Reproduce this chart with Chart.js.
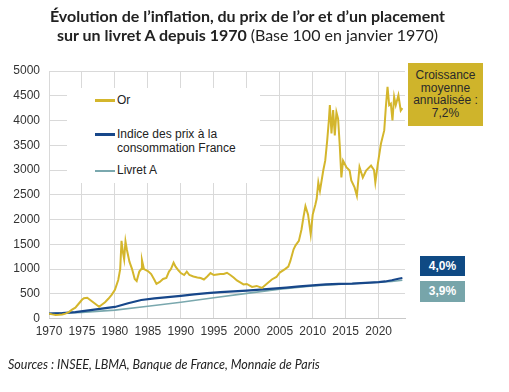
<!DOCTYPE html>
<html>
<head>
<meta charset="utf-8">
<script src="https://cdn.jsdelivr.net/npm/chart.js@4/dist/chart.umd.min.js"></script>
<style>
  body { margin: 0; width: 509px; height: 392px; background: #fff; position: relative; overflow: hidden;
         font-family: "Liberation Sans", Arial, sans-serif; color: #222; }
  #chart { position: absolute; left: 0; top: 0; }
  .title { position: absolute; left: 0; top: 6px; width: 495px; text-align: center;
           font-family: Lato, sans-serif; font-size: 16px; line-height: 19px; font-weight: bold; color: #222; }
  .title span { font-weight: normal; }
  .legend { position: absolute; left: 67px; top: 88px; width: 193px; height: 95px; background: #fff;
            font-size: 12px; color: #222; }
  .item { position: absolute; left: 28px; }
  .item i { position: absolute; left: 0; width: 20px; }
  .item b { position: absolute; left: 22px; font-weight: normal; white-space: nowrap; line-height: 14px; top: -7px; }
  .box { position: absolute; text-align: center; font-size: 12px; }
  .source { position: absolute; left: 8px; top: 357px; font-family: Lato, sans-serif; font-style: italic;
            font-size: 12.5px; color: #222; }
</style>
</head>
<body>
<canvas id="chart" width="509" height="392"></canvas>
<div class="title">Évolution de l’inflation, du prix de l’or et d’un placement<br>sur un livret A depuis 1970 <span>(Base 100 en janvier 1970)</span></div>
<div class="legend">
  <div class="item" style="top:12px"><i style="height:3px;top:-1px;background:#d4b62c"></i><b>Or</b></div>
  <div class="item" style="top:46px"><i style="height:3px;top:-1px;background:#17478a"></i><b>Indice des prix à la<br>consommation France</b></div>
  <div class="item" style="top:82px"><i style="height:2px;top:0;background:#7aa8ae"></i><b>Livret A</b></div>
</div>
<div class="box" style="left:408px;top:63px;width:75px;height:63px;background:#cfb42b;color:#2a2a2a;line-height:12.5px;padding-top:6px;box-sizing:border-box;font-size:12px">Croissance<br>moyenne<br>annualisée :<br>7,2%</div>
<div class="box" style="left:420px;top:256px;width:45px;height:20px;line-height:20px;background:#0f4a84;color:#fff;font-weight:bold">4,0%</div>
<div class="box" style="left:420px;top:281px;width:45px;height:21px;line-height:21px;background:#77a5aa;color:#fff;font-weight:bold">3,9%</div>
<div class="source">Sources : INSEE, LBMA, Banque de France, Monnaie de Paris</div>
<script>
const goldYears = [1970, 1970.5, 1971, 1971.5, 1972, 1972.5, 1973, 1973.5, 1974, 1974.5, 1975, 1975.3, 1975.8, 1976.3, 1976.8,
  1977.3, 1977.6, 1978, 1978.5, 1979, 1979.5, 1980, 1980.5, 1980.8, 1981, 1981.2, 1981.4, 1981.6, 1981.8, 1982.2, 1982.6,
  1983, 1983.3, 1983.7, 1984, 1984.1, 1984.4, 1985, 1985.5, 1986, 1986.3, 1986.8, 1987.3, 1987.8, 1988.2, 1988.5, 1988.9,
  1989.2, 1989.6, 1990, 1990.5, 1990.9, 1991.3, 1991.9, 1992.5, 1993, 1993.5, 1994, 1994.5, 1995, 1995.5, 1996, 1996.5,
  1997, 1997.5, 1998, 1998.5, 1999, 1999.5, 2000, 2000.8, 2001.5, 2002.3, 2003, 2003.8, 2004.5, 2005, 2005.8, 2006.3,
  2006.6, 2007.1, 2007.4, 2007.9, 2008.3, 2008.6, 2008.9, 2009.3, 2009.7, 2010, 2010.4, 2010.6, 2010.85, 2011.1, 2011.6,
  2011.9, 2012.2, 2012.45, 2012.6, 2012.85, 2013.1, 2013.35, 2013.6, 2013.85, 2014.1, 2014.35, 2014.6, 2015.1, 2015.6,
  2015.85, 2016.35, 2016.7, 2017.1, 2017.6, 2018.1, 2018.85, 2019.3, 2019.5, 2019.85, 2020.35, 2020.85, 2021.1, 2021.35,
  2021.6, 2021.85, 2022.1, 2022.35, 2022.6, 2023, 2023.35, 2023.6];
const goldValues = [100, 85, 75, 78, 85, 100, 130, 180, 220, 300, 380, 410, 420, 370, 320,
  270, 240, 280, 330, 400, 480, 580, 780, 1000, 1570, 1350, 1200, 1560, 1400, 1150, 1000,
  800, 760, 950, 1000, 1180, 1000, 960, 900, 780, 700, 740, 800, 820, 950, 1000, 1130,
  1050, 980, 920, 880, 950, 880, 850, 830, 820, 790, 850, 920, 880, 890, 900, 900,
  925, 880, 830, 770, 730, 690, 700, 640, 660, 620, 700, 790, 840, 930, 1000, 1050,
  1160, 1400, 1480, 1570, 1800, 2050, 2270, 2100, 1700, 2100, 2300, 2420, 2750, 2580, 2990,
  3190, 3600, 4000, 4310, 3740, 4210, 3700, 4170, 4040, 3500, 2850, 3190, 3060, 2990,
  2790, 2650, 2480, 3060, 2850, 2990, 3090, 3000, 2750, 3100, 3530, 3800, 4280, 4680,
  4310, 4340, 4000, 4480, 4310, 4510, 4200, 4250];

const cpiYears = [1970, 1972, 1974, 1976, 1978, 1980, 1982, 1984, 1986, 1988, 1990, 1992, 1994, 1996, 1998, 2000,
  2002, 2004, 2006, 2008, 2010, 2012, 2014, 2016, 2018, 2020, 2021, 2022, 2023, 2023.6];
const cpiValues = [100, 112, 130, 165, 200, 235, 310, 375, 410, 435, 460, 490, 515, 535, 550, 565,
  585, 605, 625, 650, 670, 690, 700, 705, 720, 735, 750, 775, 805, 820];

const livretYears = [1970, 1975, 1980, 1985, 1990, 1995, 2000, 2005, 2010, 2015, 2020, 2022, 2023.6];
const livretValues = [100, 125, 172, 248, 330, 420, 510, 595, 660, 700, 735, 750, 775];

const yearTicks = [1970, 1975, 1980, 1985, 1990, 1995, 2000, 2005, 2010, 2015, 2020];

const toPoints = (xs, ys) => xs.map((x, i) => ({ x: x, y: ys[i] }));

new Chart(document.getElementById("chart"), {
  type: "line",
  data: {
    datasets: [
      { label: "Or", data: toPoints(goldYears, goldValues), borderColor: "#d4b62c", borderWidth: 2 },
      { label: "Indice des prix à la consommation France", data: toPoints(cpiYears, cpiValues), borderColor: "#17478a", borderWidth: 2.2 },
      { label: "Livret A", data: toPoints(livretYears, livretValues), borderColor: "#7aa8ae", borderWidth: 1.6 },
    ],
  },
  options: {
    animation: false,
    responsive: false,
    elements: { point: { radius: 0 }, line: { tension: 0 } },
    layout: { padding: { top: 71, right: 104, bottom: 47, left: 0 } },
    plugins: { legend: { display: false }, tooltip: { enabled: false } },
    scales: {
      x: {
        type: "linear",
        min: 1970,
        max: 2024,
        afterBuildTicks: (scale) => { scale.ticks = yearTicks.map((v) => ({ value: v })); },
        grid: { color: "#d9d9d9", drawTicks: false },
        border: { color: "#c8c8c8" },
        ticks: { color: "#333", font: { family: "Liberation Sans", size: 12 }, padding: 6, maxRotation: 0,
                 callback: (v) => String(v) },
      },
      y: {
        min: 0,
        max: 5000,
        afterFit: (scale) => { scale.width = 49; },
        grid: { color: "#d9d9d9", drawTicks: false },
        border: { display: false },
        ticks: { stepSize: 500, color: "#333", font: { family: "Liberation Sans", size: 12 }, padding: 9,
                 callback: (v) => String(v) },
      },
    },
  },
});
</script>
</body>
</html>
